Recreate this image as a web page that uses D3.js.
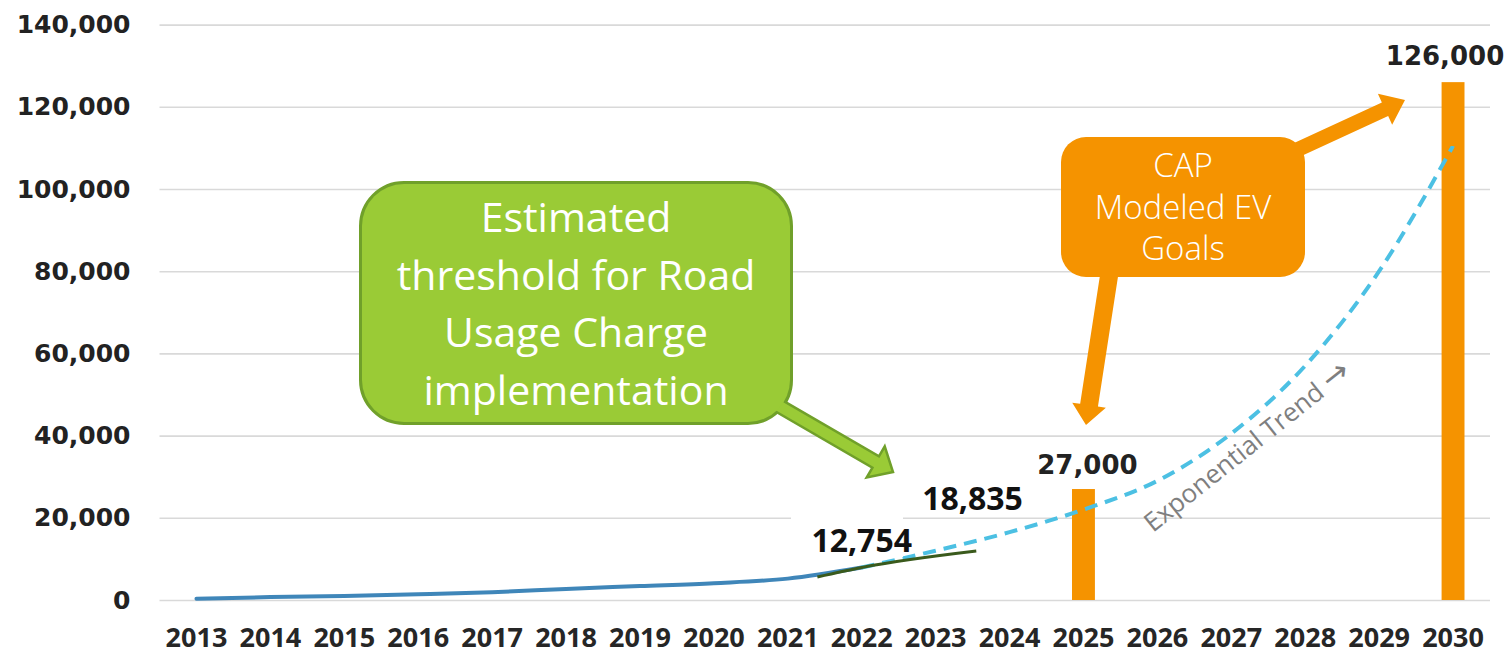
<!DOCTYPE html>
<html><head><meta charset="utf-8">
<script src="https://cdn.jsdelivr.net/npm/d3@7"></script>
<style>html,body{margin:0;padding:0;background:#fff;} svg{display:block;}</style>
</head><body><svg id="chart" width="1509" height="655"></svg>
<script>
// ---------- data ----------
const years = [2013,2014,2015,2016,2017,2018,2019,2020,2021,2022,2023,2024,2025,2026,2027,2028,2029,2030];
const yTicks = [0,20000,40000,60000,80000,100000,120000,140000];
const actualYears  = [2013,2014,2015,2016,2017,2018,2019,2020,2021,2022];
const actualValues = [300,700,1000,1400,1900,2700,3400,4100,5200,7900];
const trendYears  = [2022,2023,2024,2025,2026,2027,2028,2029,2030];
const trendValues = [7900,12000,16500,22000,29000,40500,57000,80000,110500];
const thresholdYears  = [2021.4,2022,2023.55];
const thresholdValues = [5600,7900,11900];
const goalYears  = [2025,2030];
const goalValues = [27000,126000];
const goalLabels = ["27,000","126,000"];
const pointLabels = ["12,754","18,835"];
const greenText  = ["Estimated","threshold for Road","Usage Charge","implementation"];
const orangeText = ["CAP","Modeled EV","Goals"];
const trendText  = "Exponential Trend";
const trendArrow = "\u2192";

// ---------- setup ----------
const svg = d3.select("#chart");
const W = 1509, H = 655;
svg.append("rect").attr("width",W).attr("height",H).attr("fill","#fff");

const x = d3.scaleBand().domain(years).range([159.5,1490]).padding(0);
const bw = x.bandwidth();
const cx = d3.scaleLinear().domain([2013,2030]).range([x(2013)+bw/2, x(2030)+bw/2]);
const y = d3.scaleLinear().domain([0,140000]).range([600,24.6]);

// y axis + grid
const gY = svg.append("g").attr("transform","translate(159.5,0)")
  .call(d3.axisLeft(y).tickValues(yTicks).tickSize(-(1490-159.5)).tickPadding(29).tickFormat(d3.format(",")));
gY.select(".domain").remove();
gY.selectAll(".tick line").attr("stroke","#d9d9d9").attr("stroke-width",1.6);
gY.selectAll(".tick text").attr("fill","#222").style("font-family","DejaVu Sans").style("font-weight","bold").style("font-size","25px");

// x axis
const gX = svg.append("g").attr("transform","translate(0,600)")
  .call(d3.axisBottom(x).tickSize(0).tickPadding(28));
gX.select(".domain").remove();
gX.selectAll(".tick text").attr("fill","#262626").style("font-family","Open Sans").style("font-weight","bold").style("font-size","27px");

// bars
const goals = goalYears.map((g,i)=>({year:g,value:goalValues[i],label:goalLabels[i]}));
const barW = bw*0.31;
svg.append("g").selectAll("rect").data(goals).join("rect")
  .attr("x",d=>cx(d.year)-barW/2).attr("width",barW)
  .attr("y",d=>y(d.value)).attr("height",d=>y(0)-y(d.value))
  .attr("fill","#f59300");

// lines
const line = d3.line().x(d=>cx(d.year)).y(d=>y(d.value)).curve(d3.curveMonotoneX);
const actual = actualYears.map((a,i)=>({year:a,value:actualValues[i]}));
const trend = trendYears.map((a,i)=>({year:a,value:trendValues[i]}));
const thresh = thresholdYears.map((a,i)=>({year:a,value:thresholdValues[i]}));

svg.append("path").datum(actual).attr("d",line).attr("fill","none")
  .attr("stroke","#3f86b9").attr("stroke-width",4).attr("stroke-linecap","round");
svg.append("path").datum(trend).attr("d",line).attr("fill","none")
  .attr("stroke","#4cc0e3").attr("stroke-width",4).attr("stroke-dasharray","13,8");
svg.append("path").datum(thresh).attr("d",line).attr("fill","none")
  .attr("stroke","#3a5a1c").attr("stroke-width",3);

// value labels
svg.append("rect").attr("x",791).attr("y",513).attr("width",112).attr("height",44).attr("fill","#fff");
const bigLbl = (t,xx,yy,fam)=>svg.append("text").text(t).attr("x",xx).attr("y",yy)
  .attr("text-anchor","middle").attr("fill", fam==="DejaVu Sans" ? "#222" : "#111")
  .style("font-family",fam).style("font-weight","bold").style("font-size", fam==="DejaVu Sans" ? "26px" : "32px");
bigLbl(pointLabels[0], cx(2022), 552, "Open Sans");
bigLbl(pointLabels[1], cx(2023.5), 510, "Open Sans");
bigLbl(goals[0].label, cx(2025)+4, y(goals[0].value)-15, "DejaVu Sans");
bigLbl(goals[1].label, cx(2030)-8, y(goals[1].value)-17, "DejaVu Sans");

// trend text
const tt = svg.append("text")
  .attr("transform","translate(1153,533) rotate(-38.5)")
  .attr("fill","#7f7f7f").style("font-family","Open Sans").style("font-size","26px");
tt.append("tspan").text(trendText + " ");
tt.append("tspan").text(trendArrow).style("font-family","DejaVu Sans").style("font-size","32px");

// arrow helper
function arrowPath(x1,y1,x2,y2,sw,hw,hl){
  const dx=x2-x1, dy=y2-y1, L=Math.hypot(dx,dy), ux=dx/L, uy=dy/L, px=-uy, py=ux;
  const bx=x2-ux*hl, by=y2-uy*hl;
  const p=[[x1+px*sw/2,y1+py*sw/2],[bx+px*sw/2,by+py*sw/2],[bx+px*hw/2,by+py*hw/2],[x2,y2],
           [bx-px*hw/2,by-py*hw/2],[bx-px*sw/2,by-py*sw/2],[x1-px*sw/2,y1-py*sw/2]];
  return "M"+p.map(q=>q.join(",")).join("L")+"Z";
}

// orange callout
const orange = "#f59300";
svg.append("path").attr("d",arrowPath(1275,160,1405,100,15,34,22)).attr("fill",orange);
svg.append("path").attr("d",arrowPath(1113,250,1086,425,18,34,20)).attr("fill",orange);
svg.append("rect").attr("x",1061).attr("y",137).attr("width",244).attr("height",140).attr("rx",25).attr("fill",orange);
const ot = svg.append("text").attr("text-anchor","middle").attr("fill","#fff")
  .style("font-family","Open Sans").style("font-weight","300").style("font-size","33px");
orangeText.forEach((t,i)=>ot.append("tspan").text(t).attr("x",1183).attr("y",[177,219,260][i]));

// green callout
const gFill="#9acb36", gStroke="#70a02a";
const boxAttr = s=>s.attr("x",362).attr("y",184).attr("width",428).attr("height",238).attr("rx",42);
boxAttr(svg.append("rect")).attr("fill",gFill).attr("stroke",gStroke).attr("stroke-width",6);
svg.append("path").attr("d",arrowPath(755,392,893,472,13,36,20)).attr("fill",gFill).attr("stroke",gStroke).attr("stroke-width",2.5).attr("stroke-linejoin","miter");
boxAttr(svg.append("rect")).attr("fill",gFill);
greenText.forEach((t,i)=>svg.append("text").text(t).attr("x",576).attr("y",[232,290,347,405][i])
  .attr("text-anchor","middle").attr("fill","#fff").style("font-family","Open Sans").style("font-size","41px"));
</script></body></html>
